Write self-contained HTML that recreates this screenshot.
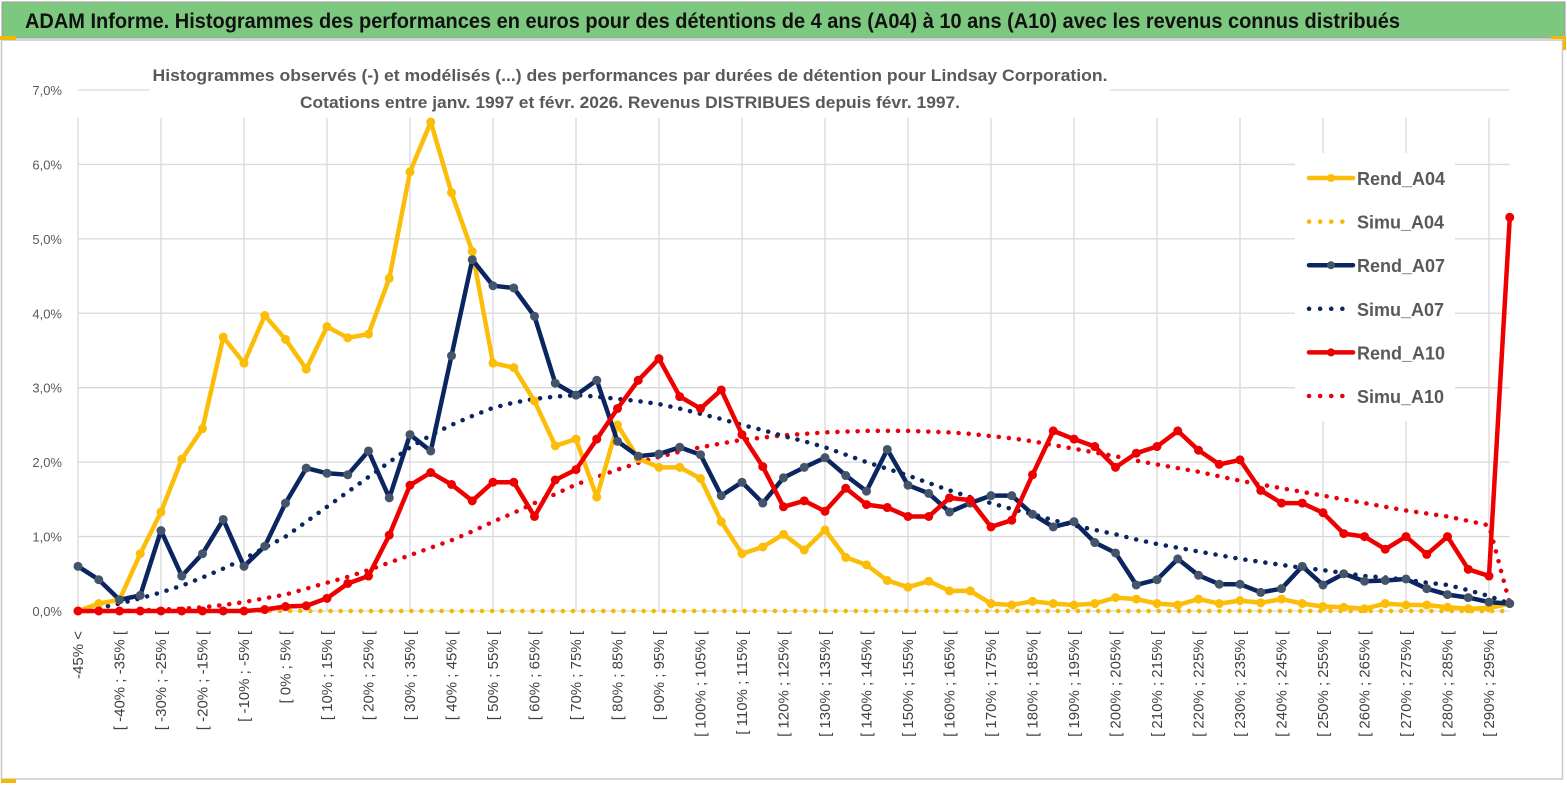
<!DOCTYPE html>
<html><head><meta charset="utf-8">
<style>
html,body{margin:0;padding:0;background:#fff;}
body{width:1567px;height:791px;overflow:hidden;font-family:"Liberation Sans",sans-serif;}
svg text{font-family:"Liberation Sans",sans-serif;}
</style></head>
<body>
<svg id="chart" width="1567" height="791" viewBox="0 0 1567 791" xmlns="http://www.w3.org/2000/svg">
  <rect x="0" y="0" width="1567" height="791" fill="#fff"/>
  <rect x="2" y="2" width="1563" height="36" fill="#7dc87f" stroke="#9a9a9a" stroke-width="1"/>
  <text x="25" y="28" font-size="21" font-weight="bold" fill="#111" textLength="1375" lengthAdjust="spacingAndGlyphs">ADAM Informe. Histogrammes des performances en euros pour des détentions de 4 ans (A04) à 10 ans (A10) avec les revenus connus distribués</text>
  <rect x="1.5" y="40" width="1561" height="739" fill="none" stroke="#c8c8c8" stroke-width="1.5"/>
  <rect x="0" y="36" width="16" height="4" fill="#f5b800"/>
  <rect x="1551" y="36" width="14" height="3" fill="#f5b800"/>
  <rect x="1563" y="36" width="3" height="14" fill="#f5b800"/>
  <rect x="1" y="779" width="15" height="4" fill="#f5b800"/>
  <g id="grid"></g>
  <g id="axes"></g>
  <rect x="150" y="62" width="960" height="50" fill="#fff"/>
  <text x="630" y="81" font-size="17" font-weight="bold" fill="#595959" text-anchor="middle" textLength="955" lengthAdjust="spacingAndGlyphs">Histogrammes observés (-) et modélisés (...)  des performances par durées de détention pour Lindsay Corporation.</text>
  <text x="630" y="108" font-size="17" font-weight="bold" fill="#595959" text-anchor="middle" textLength="660" lengthAdjust="spacingAndGlyphs">Cotations entre janv. 1997 et févr. 2026. Revenus DISTRIBUES depuis févr. 1997.</text>
  <g id="series"></g>
  <g id="legend"></g>
</svg>
<script>
const categories = ["-45% <"];
for (let a = -45; a <= 290; a += 5) categories.push("[ " + a + "% ; " + (a + 5) + "% [");
categories.push("> 295%");
const yTicks = [0,1,2,3,4,5,6,7];
const yTickLabels = ["0,0%","1,0%","2,0%","3,0%","4,0%","5,0%","6,0%","7,0%"];
const rendA04 = [0,0.1,0.15,0.77,1.33,2.04,2.45,3.68,3.33,3.97,3.65,3.25,3.82,3.67,3.72,4.47,5.9,6.57,5.62,4.83,3.33,3.27,2.82,2.22,2.31,1.53,2.5,2.05,1.93,1.93,1.78,1.2,0.77,0.86,1.03,0.82,1.09,0.72,0.62,0.41,0.32,0.4,0.27,0.27,0.1,0.08,0.13,0.1,0.08,0.1,0.18,0.16,0.1,0.08,0.16,0.1,0.14,0.11,0.16,0.1,0.06,0.05,0.03,0.1,0.08,0.08,0.05,0.03,0.04,0.1];
const simuA04 = [0,0,0,0,0,0,0,0,0,0,0,0,0,0,0,0,0,0,0,0,0,0,0,0,0,0,0,0,0,0,0,0,0,0,0,0,0,0,0,0,0,0,0,0,0,0,0,0,0,0,0,0,0,0,0,0,0,0,0,0,0,0,0,0,0,0,0,0,0,0];
const rendA07 = [0.6,0.42,0.15,0.21,1.08,0.47,0.77,1.23,0.6,0.87,1.45,1.92,1.85,1.83,2.15,1.52,2.37,2.15,3.43,4.72,4.37,4.34,3.96,3.06,2.9,3.1,2.28,2.08,2.11,2.2,2.1,1.55,1.73,1.45,1.79,1.93,2.06,1.82,1.61,2.17,1.69,1.58,1.33,1.45,1.55,1.55,1.3,1.13,1.2,0.92,0.78,0.35,0.42,0.7,0.48,0.36,0.36,0.25,0.3,0.6,0.35,0.5,0.4,0.41,0.43,0.3,0.22,0.18,0.12,0.1];
const simuA07 = [0,0.04,0.1,0.17,0.25,0.34,0.45,0.57,0.7,0.85,1.0,1.2,1.4,1.6,1.8,2.0,2.2,2.36,2.5,2.62,2.73,2.8,2.85,2.88,2.9,2.88,2.85,2.82,2.78,2.72,2.65,2.58,2.5,2.43,2.35,2.28,2.2,2.1,2.0,1.91,1.82,1.72,1.62,1.53,1.45,1.37,1.3,1.22,1.15,1.09,1.03,0.96,0.9,0.85,0.8,0.75,0.7,0.66,0.62,0.58,0.55,0.51,0.47,0.45,0.42,0.38,0.35,0.28,0.2,0.1];
const rendA10 = [0,0,0,0,0,0,0,0,0,0.02,0.06,0.07,0.17,0.37,0.47,1.02,1.69,1.86,1.7,1.48,1.73,1.73,1.27,1.76,1.9,2.31,2.72,3.1,3.39,2.88,2.72,2.97,2.37,1.94,1.4,1.48,1.34,1.65,1.43,1.39,1.27,1.27,1.52,1.49,1.13,1.22,1.83,2.42,2.31,2.21,1.93,2.12,2.21,2.42,2.16,1.97,2.03,1.62,1.45,1.45,1.32,1.04,1.0,0.83,1.0,0.76,1.0,0.56,0.47,5.29];
const simuA10 = [0,0,0,0.01,0.02,0.03,0.05,0.08,0.12,0.17,0.22,0.3,0.38,0.46,0.55,0.65,0.75,0.85,0.95,1.07,1.2,1.32,1.45,1.57,1.7,1.8,1.9,1.99,2.07,2.14,2.2,2.25,2.3,2.33,2.36,2.38,2.4,2.41,2.42,2.42,2.42,2.41,2.4,2.38,2.35,2.32,2.28,2.23,2.18,2.13,2.08,2.02,1.97,1.92,1.87,1.81,1.75,1.7,1.65,1.6,1.55,1.5,1.45,1.4,1.35,1.31,1.27,1.21,1.15,0.1];

const X0 = 78, DX = 20.75, Y0 = 611, PER = 74.43;
function xScale(i){ return X0 + i * DX; }
function yScale(v){ return Y0 - v * PER; }
const NS = "http://www.w3.org/2000/svg";
function mk(tag, attrs, parent){
  const el = document.createElementNS(NS, tag);
  for (const k in attrs) el.setAttribute(k, attrs[k]);
  parent.appendChild(el);
  return el;
}
const grid = document.getElementById('grid');
const axes = document.getElementById('axes');
const xEnd = xScale(categories.length - 1);
yTicks.forEach((t, k) => {
  const ln = mk('line', {x1: X0, x2: xEnd, y1: yScale(t), y2: yScale(t), stroke: '#d9d9d9', 'stroke-width': 1.3}, grid);
  
  
  const tx = mk('text', {x: 62, y: yScale(t) + 5, 'font-size': 13, fill: '#595959', 'text-anchor': 'end'}, axes);
  tx.textContent = yTickLabels[k];
  
  
});
for (let i = 0; i < categories.length; i += 4) {
  const ln = mk('line', {x1: xScale(i), x2: xScale(i), y1: 118, y2: Y0, stroke: '#d9d9d9', 'stroke-width': 1.3}, grid);
  
  
}
for (let i = 0; i < categories.length; i += 2) {
  const x = xScale(i) + 5, y = 631;
  const tx = mk('text', {x: x, y: y, 'font-size': 15, fill: '#404040', 'text-anchor': 'end', transform: 'rotate(-90 ' + x + ' ' + y + ')'}, axes);
  tx.textContent = categories[i];
  
  
}
const series = document.getElementById('series');
function drawSeries(vals, color, markerColor, dotted, name){
  const g = mk('g', {}, series);
  
  
  const pts = vals.map((v, i) => xScale(i).toFixed(1) + ',' + yScale(v).toFixed(1)).join(' ');
  const attrs = {points: pts, fill: 'none', stroke: color, 'stroke-width': dotted ? 4.5 : 4.5, 'stroke-linejoin': 'round', 'stroke-linecap': 'round'};
  if (dotted) { attrs['stroke-dasharray'] = '0.1 10'; }
  const pl = mk('polyline', attrs, g);
  
  
  if (!dotted) {
    vals.forEach((v, i) => {
      const c = mk('circle', {cx: xScale(i), cy: yScale(v), r: 4.5, fill: markerColor}, g);
      
      
    });
  }
}
drawSeries(simuA04, '#f5b800', '#f5b800', true, 'simu-a04');
drawSeries(simuA10, '#e8000b', '#e8000b', true, 'simu-a10');
drawSeries(simuA07, '#0b2560', '#0b2560', true, 'simu-a07');
drawSeries(rendA04, '#fbbd08', '#fbbd08', false, 'rend-a04');
drawSeries(rendA07, '#0b2560', '#44546a', false, 'rend-a07');
drawSeries(rendA10, '#ee0000', '#ee0000', false, 'rend-a10');

const legendNames = ["Rend_A04","Simu_A04","Rend_A07","Simu_A07","Rend_A10","Simu_A10"];
const legendColors = ['#fbbd08','#f5b800','#0b2560','#0b2560','#ee0000','#e8000b'];
const legendDotted = [false,true,false,true,false,true];
const legend = document.getElementById('legend');
const bg = mk('rect', {x: 1295, y: 153, width: 160, height: 268, fill: '#fff'}, legend);


legendNames.forEach((n, k) => {
  const y = 178 + k * 43.6;
  const g = mk('g', {}, legend);
  
  
  const la = {x1: 1309, x2: 1353, y1: y, y2: y, stroke: legendColors[k], 'stroke-width': 4.5, 'stroke-linecap': 'round'};
  if (legendDotted[k]) la['stroke-dasharray'] = '0.1 11';
  mk('line', la, g);
  if (!legendDotted[k]) mk('circle', {cx: 1331, cy: y, r: 4, fill: k === 2 ? '#44546a' : legendColors[k]}, g);
  const t = mk('text', {x: 1357, y: y + 7, 'font-size': 18, 'font-weight': 'bold', fill: '#595959'}, g);
  t.textContent = n;
  
  
});
</script>
</body></html>
